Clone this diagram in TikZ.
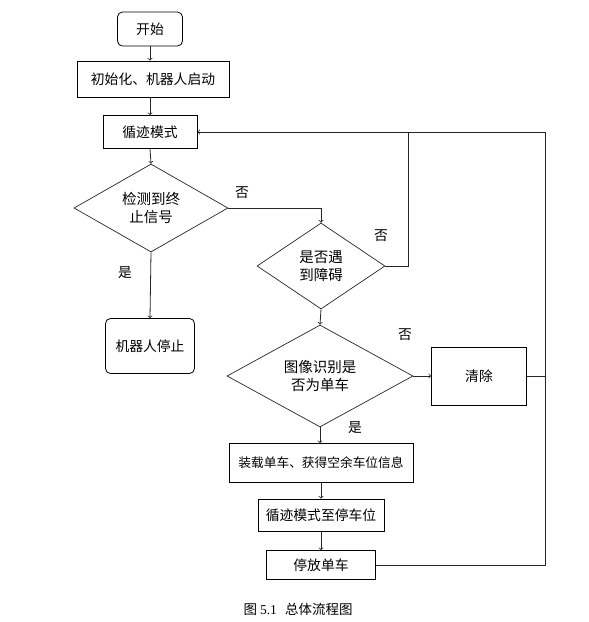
\documentclass[tikz,border=0pt]{standalone}
\usepackage{fontspec}
\usepackage{tikz}
\usetikzlibrary{calc,shapes.geometric}
\setmainfont{Noto Sans CJK SC}
\newfontfamily\tnr{Liberation Serif}

\begin{document}
\begin{tikzpicture}[x=1pt,y=-1pt]
        \useasboundingbox (0,0) rectangle (589,622);
        \tikzstyle{every node}=[font=\fontsize{13.8}{17}\selectfont]
        \tikzstyle{box}=[draw,rectangle,line width=0.8pt,align=center,inner sep=0pt]
        \tikzstyle{rbox}=[box,rounded corners=5pt]
        \tikzstyle{dec}=[draw,diamond,aspect=2,line width=0.7pt,draw=black!85,align=center,inner sep=0pt,font=\fontsize{14.5}{17.5}\selectfont]
        \tikzstyle{line}=[line width=0.8pt,draw=black!85]
        \node[rbox,minimum width=65pt,minimum height=34pt] (start) at (150,29) {开始};
        \node[box,minimum width=152pt,minimum height=36pt] (init) at (153,79) {初始化、机器人启动};
        \node[box,minimum width=94pt,minimum height=33pt] (track) at (150,132) {循迹模式};
        \node[dec,minimum width=154pt,minimum height=88pt] (dec1) at (151,208) {检测到终\\止信号};
        \node[rbox,minimum width=89pt,minimum height=55pt] (stop) at (150,346) {机器人停止};
        \node[dec,minimum width=128pt,minimum height=86pt] (dec2) at (321,266) {是否遇\\到障碍};
        \node[dec,minimum width=186pt,minimum height=102pt] (dec3) at (320,376) {图像识别是\\否为单车};
        \node[box,minimum width=95pt,minimum height=58pt] (clear) at (479,376) {清除};
        \node[box,minimum width=184pt,minimum height=39pt,font=\fontsize{12.7}{15}\selectfont] (load) at (321,463) {装载单车、获得空余车位信息};
        \node[box,minimum width=126pt,minimum height=32pt] (park) at (321,515) {循迹模式至停车位};
        \node[box,minimum width=109pt,minimum height=29pt] (put) at (321,565) {停放单车};
        \coordinate (j1) at (408,132);
        \coordinate (j2) at (545,132);
        % main flow
        \draw[line,->] (start.south) -- (start.south |- init.north);
        \draw[line,->] (start.south |- init.south) -- (track.north);
        \draw[line,->] (track.south) -- (dec1.north);
        \draw[line,->] (dec1.south) -- (stop.north);
        \draw[line,->] (dec1.east) -| (dec2.north);
        \draw[line,->] (dec2.south) -- (dec3.north);
        \draw[line,->] (dec3.east) -- (clear.west);
        \draw[line,->] (dec3.south) -- (dec3.south |- load.north);
        \draw[line,->] (load.south -| park.north) -- (park.north);
        \draw[line,->] (park.south) -- (put.north);
        % loops back to the tracking mode
        \draw[line] (dec2.east) -| (j1);
        \draw[line,->] (j2) -- (track.east);
        \draw[line] (clear.east) -- (clear.east -| j2);
        \draw[line] (put.east) -| (j2);
        % labels
        \node (no1) at (242,193) {否};
        \node (yes1) at (125,273) {是};
        \node (no2) at (381,236) {否};
        \node (no3) at (405,335) {否};
        \node (yes3) at (355,428) {是};
        \node[font=\fontsize{13.5}{15}\selectfont] (cap) at (298,609) {图 {\tnr 5.1}\hspace{0.6em}总体流程图};
    \end{tikzpicture}
\end{document}
